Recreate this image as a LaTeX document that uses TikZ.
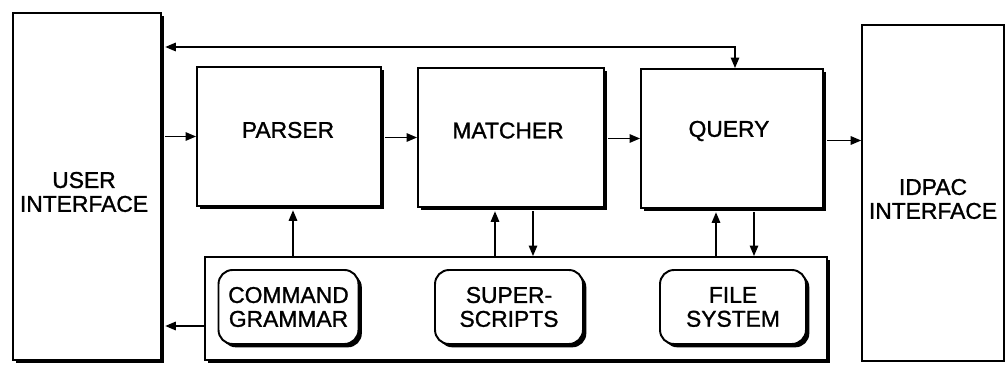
\documentclass[tikz,border=0pt]{standalone}
\usepackage{fontspec}
\setmainfont{Liberation Sans}
\newfontfamily\boxfont{Liberation Sans}[BoldFont={Liberation Sans}, BoldFeatures={FakeBold=1.2}]
\usetikzlibrary{positioning, arrows.meta, shadows, calc}

\begin{document}
\begin{tikzpicture}[x=0.02cm, y=-0.02cm,
  font=\boxfont\bfseries\fontsize{13}{13.6}\selectfont,
  block/.style={draw, line width=1.1pt, fill=white, inner sep=0pt,
    drop shadow={shadow xshift=1.9pt, shadow yshift=-1.9pt, fill=black, opacity=1}},
  plainbox/.style={draw, line width=0.9pt, fill=white, inner sep=0pt},
  subbox/.style={block, rounded corners=8pt, minimum height=1.48cm, align=center},
  lbl/.style={align=center, inner sep=0pt},
  arr/.style={-{Triangle[length=2.1mm, width=1.7mm]}, line width=0.8pt},
  twoway/.style={{Triangle[length=2.1mm, width=1.7mm]}-{Triangle[length=2.1mm, width=1.7mm]}, line width=0.8pt}]
\useasboundingbox (0,0) rectangle (1006,367);
% side interfaces
\node[block, minimum width=2.96cm, minimum height=6.94cm] (ui) at (87,186.5) {};
\node[lbl] (uitxt) at (84,192) {USER\\INTERFACE};
\node[plainbox, minimum width=2.84cm, minimum height=6.72cm] (idpac) at (933,193) {};
\node[lbl] (idpactxt) at (933,199) {IDPAC\\INTERFACE};
% main chain
\node[block, minimum width=3.68cm, minimum height=2.78cm] (parser) at (289,136.5) {};
\node[lbl] (parsertxt) at (288,130) {PARSER};
\node[block, minimum width=3.72cm, minimum height=2.78cm] (matcher) at (511,137.5) {};
\node[lbl] (matchertxt) at (508,130.5) {MATCHER};
\node[block, minimum width=3.64cm, minimum height=2.78cm] (query) at (732,138.5) {};
\node[lbl] (querytxt) at (729,131) {QUERY};
% support modules
\node[block, minimum width=12.44cm, minimum height=2.06cm] (store) at (516,308.5) {};
\node[subbox, minimum width=2.8cm] (grammar) at (288.5,307) {COMMAND\\GRAMMAR};
\node[subbox, minimum width=2.96cm] (super) at (509,307) {SUPER-\\SCRIPTS};
\node[subbox, minimum width=2.92cm] (files) at (733,307) {FILE\\SYSTEM};
\coordinate (fb) at (0,47);
\draw[twoway, shorten <=1.9pt] (ui.east |- fb) -| ($(query.north)+(3,0)$);
\draw[arr, shorten <=1.9pt] (ui.east |- parser.west) -- (parser.west);
\draw[arr, shorten <=1.9pt] (parser.east |- matcher.west) -- (matcher.west);
\draw[arr, shorten <=1.9pt] (matcher.east |- query.west) -- (query.west);
\draw[arr, shorten <=1.9pt] ($(query.east)+(0,2)$) -- ($(query.east -| idpac.west)+(0,2)$);
\draw[arr, shorten >=1.9pt] (store.north -| 293,0) -- (parser.south -| 293,0);
\draw[arr, shorten >=1.9pt] (store.north -| 495,0) -- (matcher.south -| 495,0);
\draw[arr, shorten <=1.9pt] (matcher.south -| 533,0) -- (store.north -| 533,0);
\draw[arr, shorten >=1.9pt] (store.north -| 716,0) -- (query.south -| 716,0);
\draw[arr, shorten <=1.9pt] (query.south -| 754,0) -- (store.north -| 754,0);
\draw[arr, shorten >=1.9pt] (store.west |- 0,326) -- (ui.east |- 0,326);
\end{tikzpicture}
\end{document}
